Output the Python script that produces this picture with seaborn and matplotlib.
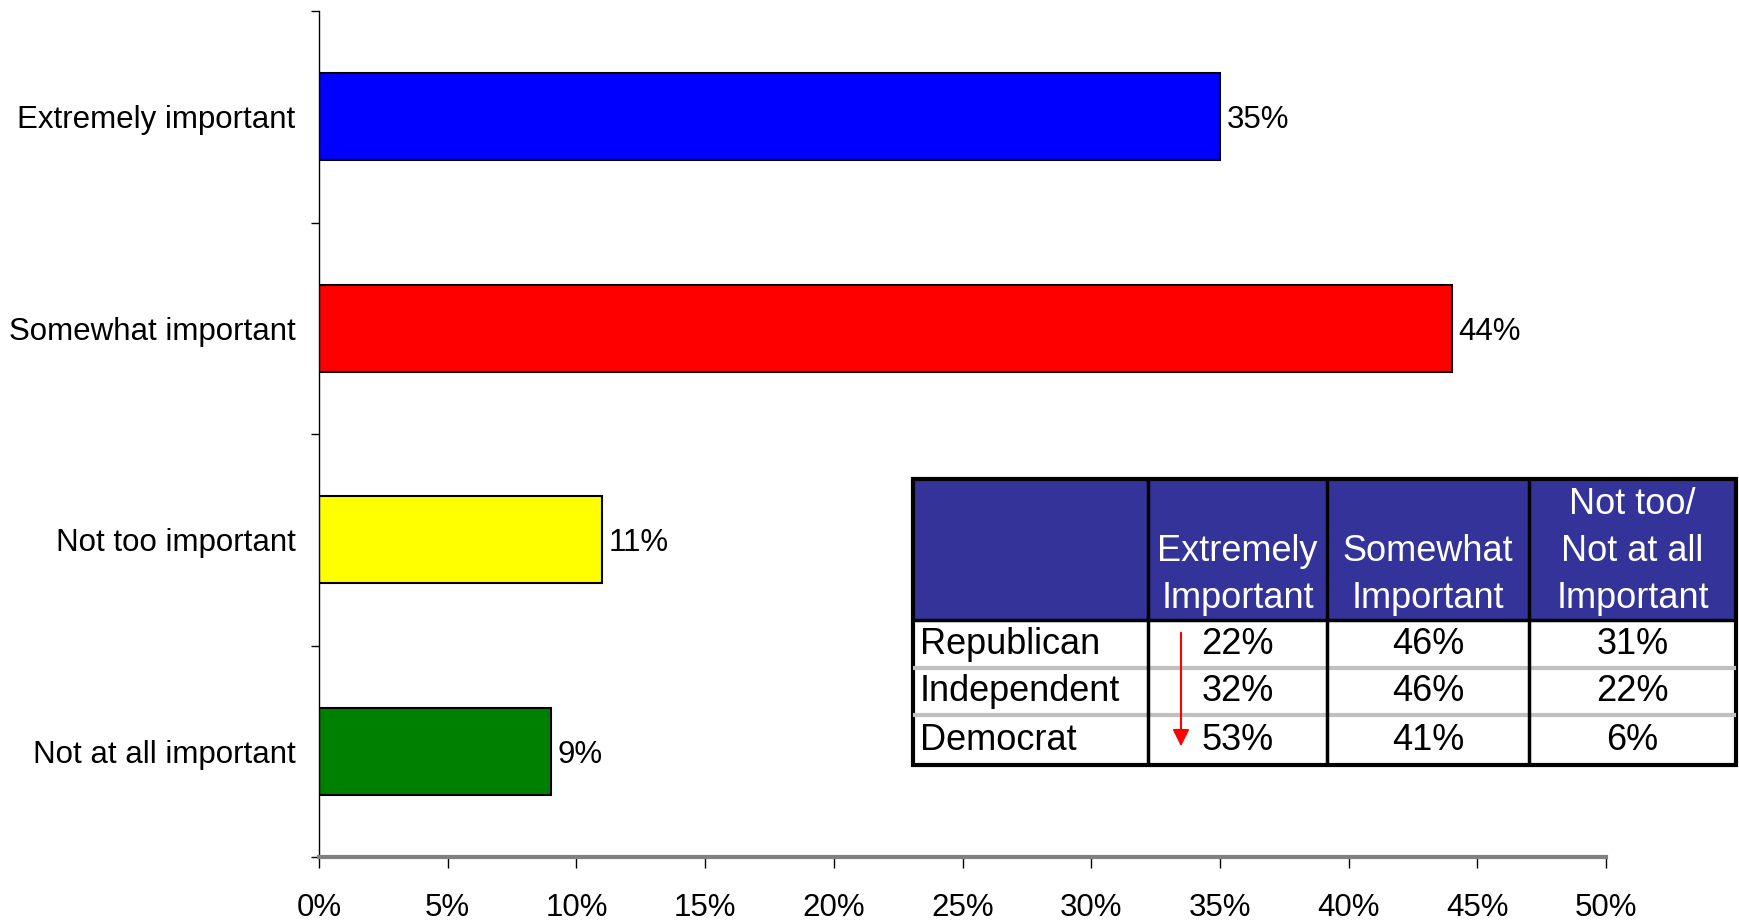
import matplotlib
matplotlib.use("Agg")
import matplotlib.pyplot as plt
import seaborn as sns
import pandas as pd
from matplotlib.patches import Rectangle

# bar chart data
categories = ["Extremely important", "Somewhat important", "Not too important", "Not at all important"]
values = [35, 44, 11, 9]
bar_colors = ["#0000FF", "#FF0000", "#FFFF00", "#008000"]
x_ticks = [0, 5, 10, 15, 20, 25, 30, 35, 40, 45, 50]

# inset table data
table_header = ["", "Extremely\nImportant", "Somewhat\nImportant", "Not too/\nNot at all\nImportant"]
parties = ["Republican", "Independent", "Democrat"]
extremely = [22, 32, 53]
somewhat = [46, 46, 41]
not_too = [31, 22, 6]

sns.set_theme(style="ticks")
plt.rcParams['font.family'] = ['Liberation Sans', 'DejaVu Sans']
plt.rcParams['text.color'] = 'black'
plt.rcParams['xtick.labelcolor'] = 'black'
plt.rcParams['ytick.labelcolor'] = 'black'

W, H = 1739, 923
fig = plt.figure(figsize=(W / 100, H / 100), dpi=100)
fig.patch.set_facecolor("white")

# main axes placed in pixel terms
ax = fig.add_axes([319 / W, 1 - 857 / H, (1606 - 319) / W, (857 - 11) / H])

df = pd.DataFrame({"category": categories, "value": values})
sns.barplot(data=df, x="value", y="category", hue="category", palette=bar_colors,
            legend=False, width=0.41, edgecolor="black", linewidth=1.5,
            saturation=1, ax=ax)

for cont in ax.containers:
    labels = ax.bar_label(cont, fmt="{:.0f}%", padding=5, fontsize=22.5, color="black")
    for t in labels:
        t.set_va("center_baseline")

ax.set_xlim(0, 50)
ax.set_ylim(3.5, -0.5)
ax.set_xticks(x_ticks)
ax.set_xticklabels([f"{v}%" for v in x_ticks])
ax.set_xlabel("")
ax.set_ylabel("")
ax.tick_params(axis="x", length=8, width=1, pad=18, labelsize=22.5, color="black")
ax.tick_params(axis="y", which="major", length=0, pad=17, labelsize=22.5)
ax.set_yticks([-0.5, 0.5, 1.5, 2.5, 3.5], minor=True)
ax.tick_params(axis="y", which="minor", length=6, width=1, color="black")

sns.despine(ax=ax)
ax.spines["bottom"].set_color("#808080")
ax.spines["bottom"].set_linewidth(3)
ax.spines["left"].set_color("black")
ax.spines["left"].set_linewidth(1)

# table drawn in its own axes, pixel units
tw, th = 1736 - 913, 765 - 479
tab = fig.add_axes([913 / W, 1 - 765 / H, tw / W, th / H])
tab.set_xlim(0, tw)
tab.set_ylim(th, 0)
tab.axis("off")

col_x = [0, 235, 414, 616, tw]
row_y = [0, 141, 189, 236, th]

tab.add_patch(Rectangle((0, 0), tw, row_y[1], facecolor="#333399", edgecolor="none"))
for y in row_y[2:4]:
    tab.plot([0, tw], [y, y], color="#c0c0c0", lw=3, solid_capstyle="butt")
tab.plot([0, tw], [row_y[1], row_y[1]], color="black", lw=2.5)
for x in col_x[1:-1]:
    tab.plot([x, x], [0, th], color="black", lw=2.5)
tab.add_patch(Rectangle((0, 0), tw, th, facecolor="none", edgecolor="black", lw=3, clip_on=False))

for i, head in enumerate(table_header):
    if head:
        cx = (col_x[i] + col_x[i + 1]) / 2
        tab.text(cx, row_y[1] - 4, head, ha="center", va="bottom", color="white",
                 fontsize=26, linespacing=1.45)

for r, party in enumerate(parties):
    cy = (row_y[r + 1] + row_y[r + 2]) / 2
    tab.text(7, cy, party, ha="left", va="center", fontsize=26, color="black")
    for c, col in enumerate([extremely, somewhat, not_too]):
        cx = (col_x[c + 1] + col_x[c + 2]) / 2
        tab.text(cx, cy, f"{col[r]}%", ha="center", va="center", fontsize=26, color="black")

# red arrow: Republican -> Democrat trend
tab.annotate("", xy=(268, 270), xytext=(268, 151),
             arrowprops=dict(arrowstyle="-|>", color="red", lw=1.5, mutation_scale=25))

fig.savefig("out.png", dpi=100)
